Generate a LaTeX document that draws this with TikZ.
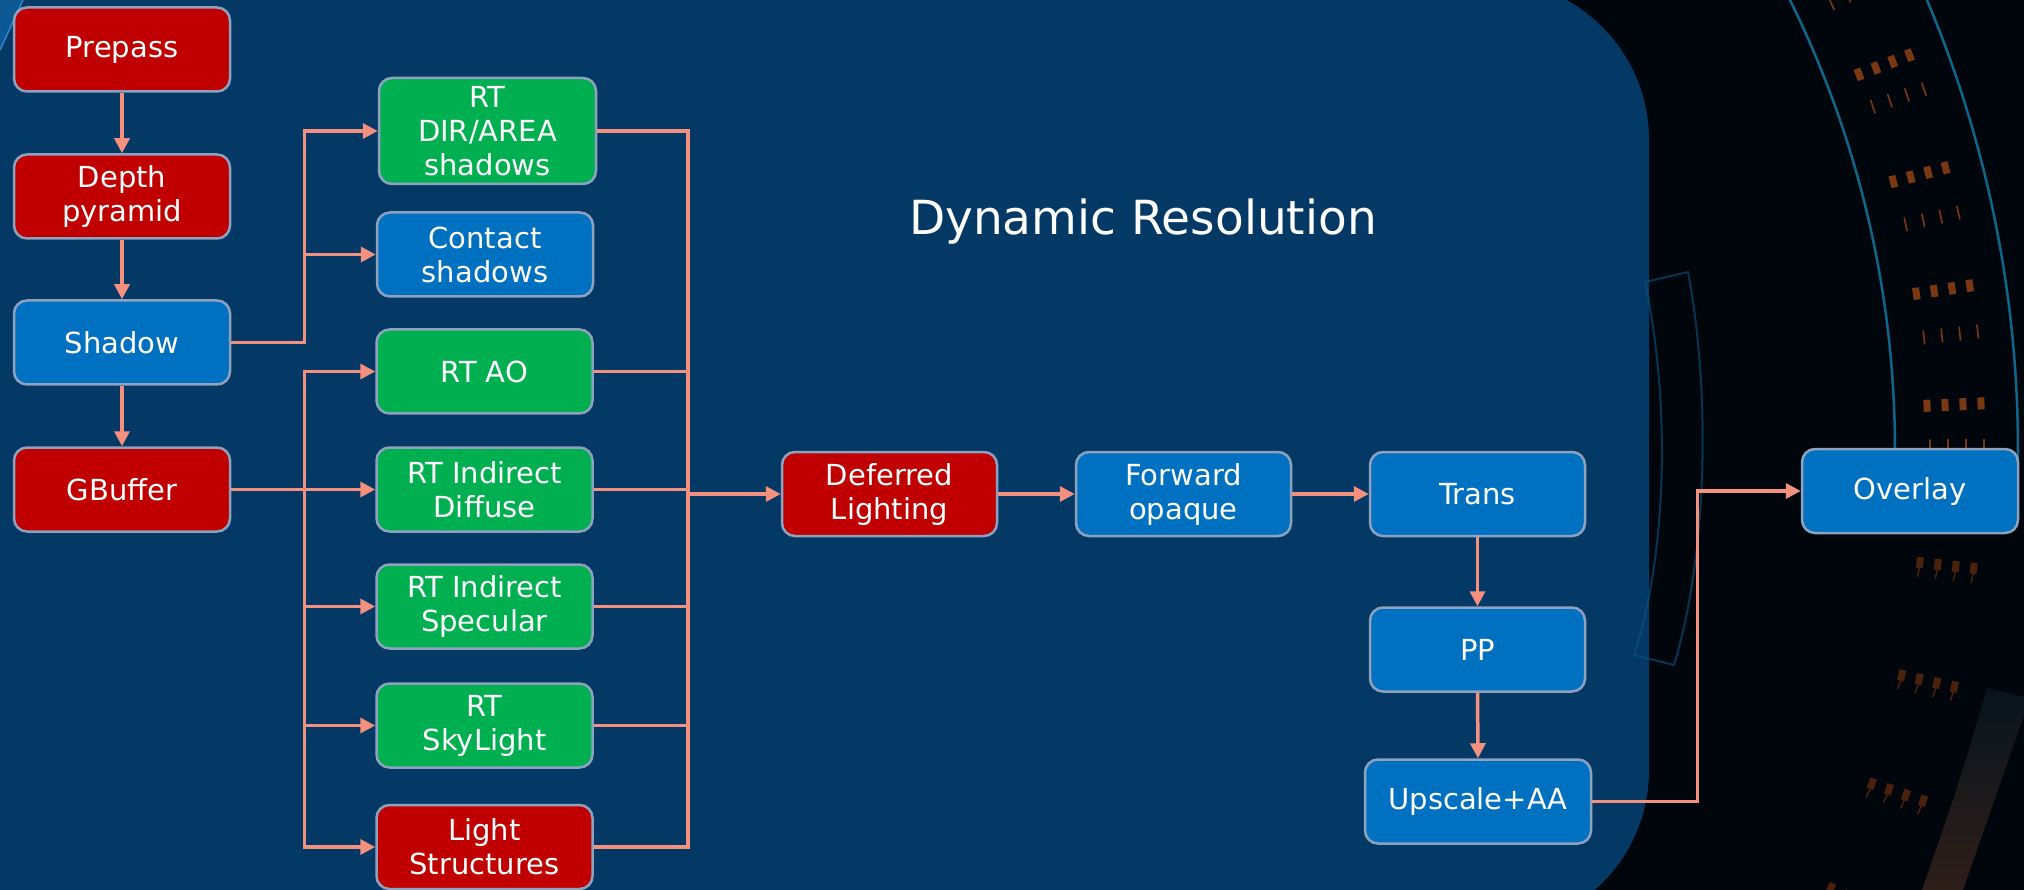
\documentclass[tikz,border=0pt]{standalone}
\usepackage{fontspec}
\setmainfont{DejaVu Sans}
\usetikzlibrary{arrows.meta}

\definecolor{bgdark}{HTML}{01050C}
\definecolor{panelblue}{HTML}{033964}
\definecolor{passred}{HTML}{C00000}
\definecolor{passblue}{HTML}{0070C0}
\definecolor{passgreen}{HTML}{00B050}
\definecolor{boxedge}{HTML}{8EA2C0}
\definecolor{wirecol}{HTML}{F4907E}
\definecolor{ringcyan}{HTML}{0E6689}
\definecolor{tickorange}{HTML}{7A3812}
\definecolor{pinbrown}{HTML}{4A210D}
\definecolor{ghostcyan}{HTML}{0B5580}
\definecolor{cornerblue}{HTML}{0B5894}
\definecolor{corneredge}{HTML}{2F86C8}
\definecolor{bandtop}{HTML}{08141C}
\definecolor{bandbottom}{HTML}{2E1E1A}

\tikzset{
  pass/.style={draw=boxedge, line width=2.5pt, rounded corners=13pt,
    text=white, align=center, minimum width=216pt, minimum height=84pt,
    inner sep=0pt, font=\fontsize{29}{34}\selectfont},
  redpass/.style={pass, fill=passred},
  bluepass/.style={pass, fill=passblue},
  greenpass/.style={pass, fill=passgreen},
  wire/.style={draw=wirecol, line width=3.5pt},
  flow/.style={wire, -{Triangle[length=15pt,width=15pt]}},
}

\begin{document}
\begin{tikzpicture}[x=1pt,y=-1pt]
\useasboundingbox (0,0) rectangle (2024,890);

% ---------- backdrop ----------
\begin{scope}
  \clip (0,0) rectangle (2024,890);
  \fill[bgdark] (0,0) rectangle (2024,890);
  \fill[panelblue, rounded corners=160pt] (-600,-20) rectangle (1649,930);

  % corner streak
  \fill[cornerblue] (0,0) -- (23,0) -- (0,50) -- cycle;
  \draw[corneredge, line width=1.5pt] (23,0) -- (0,50);

  % rings
  \draw[ringcyan, line width=2.5pt] plot[domain=-27:0.5, samples=60]
    ({878+1017*cos(\x)},{450+1017*sin(\x)});
  \draw[ringcyan, line width=2.5pt] plot[domain=-24:0.5, samples=60]
    ({860+1158*cos(\x)},{450+1158*sin(\x)});

  % ring ticks
  \foreach \a in {-27,-20.8,-14.7,-8.5,-2.4,3.7} {
    \foreach \r in {1058,1076,1094,1112} {
      \fill[tickorange, shift={(870,450)}, rotate={-1*(\a)}]
        (\r-3.5,-6) rectangle (\r+3.5,6);
    }
  }
  \foreach \a in {-24.9,-18.9,-12.3,-6.1,-0.2} {
    \foreach \r in {1060,1078,1096,1114} {
      \draw[tickorange, line width=1.6pt, shift={(870,450)}, rotate={-1*(\a)}]
        (\r,-7) -- (\r,7);
    }
  }
  \foreach \a in {6.2,12.4,18.5,24.6} {
    \foreach \r in {1056,1074,1092,1110} {
      \fill[pinbrown, shift={(870,450)}, rotate={-1*(\a)}]
        (\r-3.5,-7) rectangle (\r+3.5,4);
      \draw[pinbrown, line width=1.5pt, shift={(870,450)}, rotate={-1*(\a)}]
        (\r,4) -- (\r-1,13);
    }
  }

  % faint curved frame
  \draw[ghostcyan, opacity=0.6, line width=2pt]
    (1645,282) -- (1688,272) .. controls (1712,400) and (1706,560) .. (1674,665)
    -- (1634,655) .. controls (1668,550) and (1670,400) .. cycle;

  % lower right band
  \shade[top color=bandtop, bottom color=bandbottom]
    (1987,688) -- (2030,698) .. controls (2005,770) .. (1963,890)
    -- (1922,890) .. controls (1960,780) .. cycle;
\end{scope}

% ---------- title ----------
\node[text=white, anchor=base, font=\fontsize{47}{56}\selectfont] (title)
  at (1143,235) {Dynamic Resolution};

% ---------- passes ----------
\node[redpass]  (prepass)  at (122,49.5)  {Prepass};
\node[redpass]  (depth)    at (122,196.5) {Depth\\pyramid};
\node[bluepass] (shadow)   at (122,342.5) {Shadow};
\node[redpass]  (gbuffer)  at (122,489.5) {GBuffer};

\node[greenpass, minimum width=217pt, minimum height=106pt] (rtdir) at (487.5,131) {RT\\DIR/AREA\\shadows};
\node[bluepass]  (contact)  at (485,254.5)   {Contact\\shadows};
\node[greenpass] (rtao)     at (484.5,371.5) {RT AO};
\node[greenpass] (diffuse)  at (484.5,489.5) {RT Indirect\\Diffuse};
\node[greenpass] (specular) at (484.5,606.5) {RT Indirect\\Specular};
\node[greenpass] (skylight) at (484.5,725.5) {RT\\SkyLight};
\node[redpass]   (lights)   at (484.5,847)   {Light\\Structures};

\node[redpass, minimum width=215pt]  (deferred) at (889.5,494)  {Deferred\\Lighting};
\node[bluepass, minimum width=215pt] (forward)  at (1183.5,494) {Forward\\opaque};
\node[bluepass, minimum width=215pt] (trans)    at (1477.5,494) {Trans};
\node[bluepass, minimum width=215pt] (pp)       at (1477.5,649.5) {PP};
\node[bluepass, minimum width=226pt] (upscale)  at (1478,801.5) {Upscale+AA};
\node[bluepass] (overlay) at (1910,491) {Overlay};

% ---------- connectors ----------
\draw[flow] (prepass.south) -- (depth.north);
\draw[flow] (depth.south) -- (shadow.north);
\draw[flow] (shadow.south) -- (gbuffer.north);

\draw[flow] (shadow.east) -- ++(73,0) |- (rtdir.west);
\draw[flow] (shadow.east) -- ++(73,0) |- (contact.west);

\foreach \t in {rtao,diffuse,specular,skylight,lights}
  \draw[flow] (gbuffer.east) -- ++(73,0) |- (\t.west);

\coordinate (merge) at (688,494);
\foreach \s in {rtdir,rtao,diffuse,specular,skylight,lights}
  \draw[wire] (\s.east) -| (merge);
\draw[flow] (merge) -- (deferred.west);

\draw[flow] (deferred.east) -- (forward.west);
\draw[flow] (forward.east) -- (trans.west);
\draw[flow] (trans.south) -- (pp.north);
\draw[flow] (pp.south) -- (upscale.north);
\draw[flow] (upscale.east) -- ++(105,0) |- (overlay.west);

\end{tikzpicture}
\end{document}
